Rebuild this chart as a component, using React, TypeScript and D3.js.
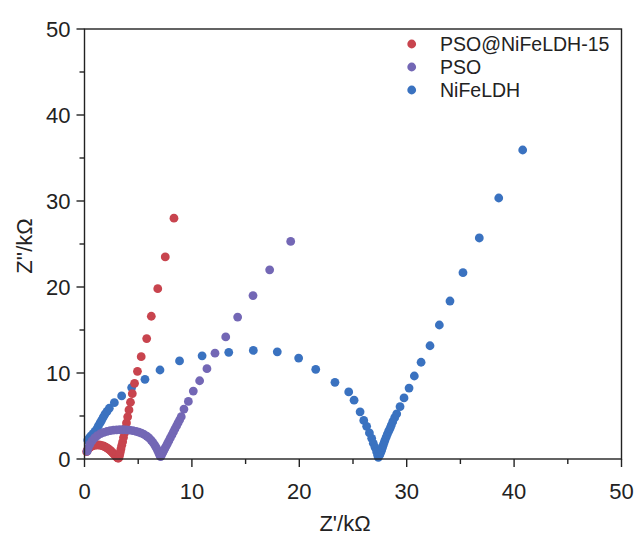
import React from "react";
import * as d3 from "d3";

const seriesNames = ["PSO@NiFeLDH-15", "PSO", "NiFeLDH"];
const seriesColors = ["#c8444e", "#7367b5", "#3a72c0"];

const xTicks = [0, 10, 20, 30, 40, 50];
const yTicks = [0, 10, 20, 30, 40, 50];
const minorTicks = [5, 15, 25, 35, 45];

// PSO@NiFeLDH-15 : [Z', Z''] in kOhm
const pso15Data: [number, number][] = [
  [0.2, 0.85], [0.28, 1.05], [0.38, 1.22], [0.5, 1.36], [0.63, 1.47], [0.78, 1.55],
  [0.95, 1.6], [1.12, 1.63], [1.3, 1.63], [1.48, 1.6], [1.65, 1.55], [1.82, 1.48],
  [1.98, 1.38], [2.13, 1.27], [2.27, 1.14], [2.4, 1.0], [2.52, 0.86], [2.63, 0.72],
  [2.73, 0.59], [2.82, 0.47], [2.9, 0.36], [2.97, 0.27], [3.03, 0.19], [3.09, 0.13],
  [3.14, 0.1], [3.19, 0.12], [3.23, 0.3], [3.28, 0.55], [3.34, 0.85], [3.4, 1.2],
  [3.47, 1.6], [3.55, 2.0], [3.63, 2.5], [3.72, 3.0], [3.81, 3.6], [3.91, 4.2],
  [4.02, 4.9], [4.14, 5.7], [4.28, 6.6], [4.45, 7.6], [4.66, 8.8], [4.93, 10.2],
  [5.28, 11.9], [5.79, 14.0], [6.22, 16.6], [6.82, 19.8], [7.52, 23.5], [8.33, 28.0],
];

// PSO
const psoData: [number, number][] = [
  [0.25, 0.9], [0.35, 1.3], [0.5, 1.7], [0.7, 2.1], [0.95, 2.45], [1.2, 2.72],
  [1.5, 2.95], [1.8, 3.1], [2.1, 3.22], [2.4, 3.3], [2.7, 3.35], [3.0, 3.38],
  [3.3, 3.4], [3.6, 3.4], [3.9, 3.38], [4.2, 3.35], [4.5, 3.3], [4.8, 3.22],
  [5.05, 3.12], [5.3, 3.0], [5.55, 2.85], [5.8, 2.65], [6.0, 2.45], [6.2, 2.2],
  [6.38, 1.92], [6.54, 1.62], [6.68, 1.32], [6.8, 1.03], [6.9, 0.76], [6.98, 0.54],
  [7.04, 0.38], [7.09, 0.27], [7.16, 0.45], [7.27, 0.7], [7.37, 0.95], [7.47, 1.2],
  [7.6, 1.5], [7.72, 1.8], [7.85, 2.1], [7.99, 2.45], [8.14, 2.8], [8.28, 3.15],
  [8.42, 3.5], [8.57, 3.85], [8.71, 4.2], [8.86, 4.55], [9.01, 4.92], [9.26, 5.8],
  [9.67, 6.7], [10.13, 7.9], [10.72, 9.1], [11.4, 10.5], [12.15, 12.3], [13.15, 14.2],
  [14.26, 16.5], [15.69, 19.0], [17.24, 22.0], [19.2, 25.3],
];

// NiFeLDH
const nifeData: [number, number][] = [
  [0.3, 2.2], [0.45, 2.45], [0.6, 2.7], [0.8, 2.95], [0.98, 3.2], [1.15, 3.5],
  [1.29, 3.84], [1.45, 4.2], [1.6, 4.53], [1.75, 4.88], [1.91, 5.23], [2.1, 5.55],
  [2.31, 5.9], [2.78, 6.55], [3.46, 7.33], [4.39, 8.3], [5.63, 9.27], [7.03, 10.35],
  [8.85, 11.4], [10.95, 12.0], [13.43, 12.4], [15.72, 12.62], [17.95, 12.46],
  [19.94, 11.74], [21.53, 10.43], [23.32, 8.92], [24.6, 7.8], [25.1, 6.84],
  [25.66, 5.48], [26.0, 4.48], [26.27, 3.8], [26.53, 3.03], [26.74, 2.4], [26.89, 1.83],
  [27.05, 1.36], [27.2, 0.85], [27.3, 0.45], [27.36, 0.2], [27.5, 0.5], [27.6, 0.8],
  [27.67, 1.05], [27.75, 1.35], [27.82, 1.63], [27.9, 1.92], [27.98, 2.21], [28.09, 2.55],
  [28.2, 2.9], [28.32, 3.23], [28.45, 3.57], [28.57, 3.95], [28.7, 4.34], [28.88, 4.8],
  [29.07, 5.25], [29.38, 6.08], [29.75, 7.1], [30.22, 8.25], [30.71, 9.65], [31.34, 11.25],
  [32.17, 13.17], [33.04, 15.58], [34.03, 18.37], [35.24, 21.66], [36.76, 25.7],
  [38.57, 30.35], [40.8, 35.93],
];

const W = 636;
const H = 539;
const left = 84.5;
const right = 621.5;
const top = 29;
const bottom = 459;

export default function App() {
  const x = d3.scaleLinear().domain([0, 50]).range([left, right]);
  const y = d3.scaleLinear().domain([0, 50]).range([bottom, top]);
  const font = "'Liberation Sans', Arial, sans-serif";
  const drawOrder = [2, 0, 1];
  const allData = [pso15Data, psoData, nifeData];
  const r = 4.4;

  return (
    <svg
      width={W}
      height={H}
      style={{ position: "absolute", left: 0, top: 0, background: "#fff" }}
      fontFamily={font}
    >
      <rect x={0} y={0} width={W} height={H} fill="#fff" />
      {drawOrder.map((si) => (
        <g key={si} fill={seriesColors[si]}>
          {allData[si].map((d, i) => (
            <circle key={i} cx={x(d[0])} cy={y(d[1])} r={r} />
          ))}
        </g>
      ))}
      <rect
        x={left}
        y={top}
        width={right - left}
        height={bottom - top}
        fill="none"
        stroke="#222"
        strokeWidth={1.4}
      />
      {xTicks.map((t) => (
        <g key={"xt" + t}>
          <line x1={x(t)} x2={x(t)} y1={bottom} y2={bottom + 8} stroke="#222" strokeWidth={1.4} />
          <text x={x(t)} y={bottom + 40} textAnchor="middle" fontSize={22} fill="#222">
            {t}
          </text>
        </g>
      ))}
      {minorTicks.map((t) => (
        <line key={"xm" + t} x1={x(t)} x2={x(t)} y1={bottom} y2={bottom + 5} stroke="#222" strokeWidth={1.4} />
      ))}
      {yTicks.map((t) => (
        <g key={"yt" + t}>
          <line x1={left} x2={left - 8} y1={y(t)} y2={y(t)} stroke="#222" strokeWidth={1.4} />
          <text x={left - 14} y={y(t) + 8} textAnchor="end" fontSize={22} fill="#222">
            {t}
          </text>
        </g>
      ))}
      {minorTicks.map((t) => (
        <line key={"ym" + t} x1={left} x2={left - 5} y1={y(t)} y2={y(t)} stroke="#222" strokeWidth={1.4} />
      ))}
      <text x={(left + right) / 2 - 8} y={531} textAnchor="middle" fontSize={22} fill="#222">
        Z'/kΩ
      </text>
      <text
        transform={`translate(32, ${(top + bottom) / 2 + 2}) rotate(-90)`}
        textAnchor="middle"
        fontSize={22}
        fill="#222"
      >
        Z''/kΩ
      </text>
      {seriesNames.map((n, i) => (
        <g key={n}>
          <circle cx={411.7} cy={44 + i * 23} r={r} fill={seriesColors[i]} />
          <text x={440} y={44 + i * 23 + 7} fontSize={19.5} fill="#222">
            {n}
          </text>
        </g>
      ))}
    </svg>
  );
}
